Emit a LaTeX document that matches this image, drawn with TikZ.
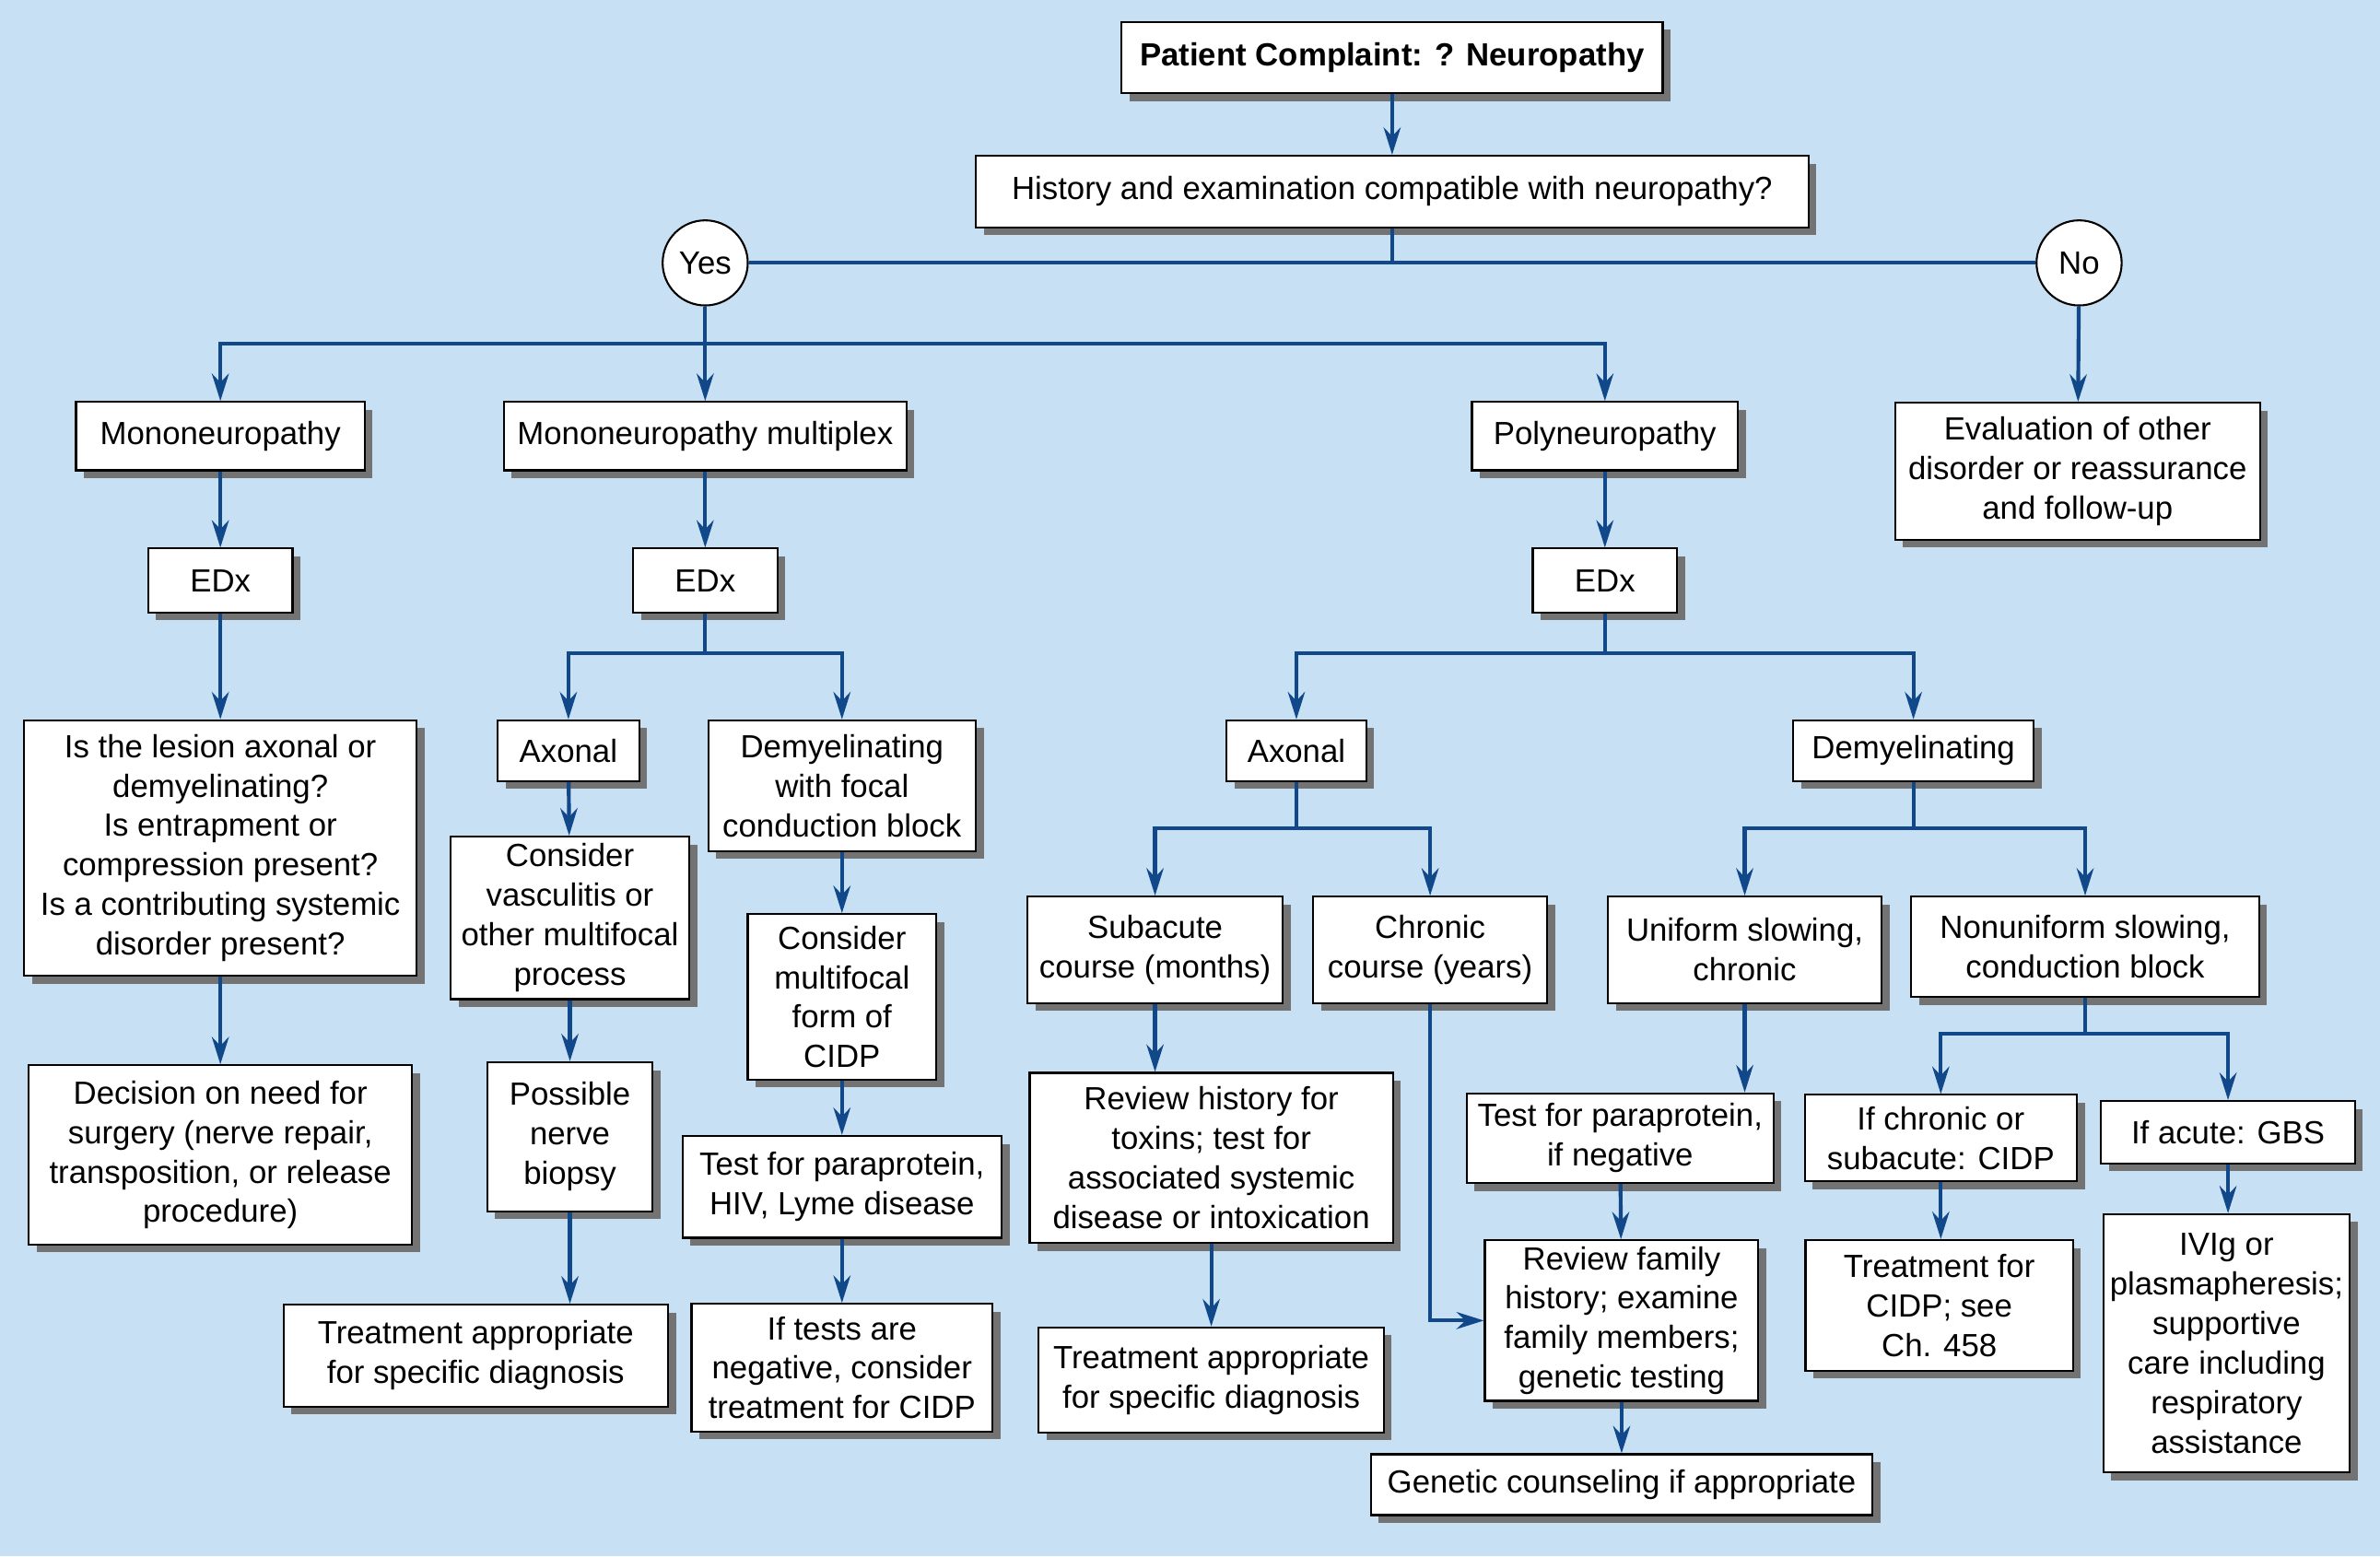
\documentclass[tikz,border=0pt]{standalone}
\usepackage{fontspec}
\setmainfont{Liberation Sans}
\usetikzlibrary{arrows.meta,shadows}
\definecolor{bgblue}{RGB}{200,224,244}
\definecolor{lineblue}{RGB}{16,72,138}
\tikzset{
  box/.style={draw=black, line width=0.9pt, fill=white, align=center, inner sep=1mm,
    font=\fontsize{15}{18.5}\selectfont,
    drop shadow={shadow xshift=1.3mm, shadow yshift=-1.3mm, fill=black!55, opacity=1}},
  bw/.style={minimum width=#1*0.25mm},
  bh/.style={minimum height=#1*0.25mm},
  choice/.style={circle, draw=black, line width=0.9pt, fill=white, minimum size=14mm, inner sep=0pt,
    font=\fontsize{15}{18.5}\selectfont},
  link/.style={draw=lineblue, line width=1.8pt},
  arr/.style={link, -{Stealth[length=4.5mm,width=2.8mm]}}
}
\begin{document}
\begin{tikzpicture}[x=0.25mm, y=-0.25mm]
    \fill[bgblue] (0,0) rectangle (1566,1024);
    \useasboundingbox (0,0) rectangle (1566,1024);

    % top
    \node[box, bw=356, bh=47, font=\fontsize{15}{18.5}\selectfont\bfseries] (top) at (916,38) {Patient Complaint: ? Neuropathy};
    \node[box, bw=548, bh=47] (hist) at (916,126) {History and examination compatible with neuropathy?};
    \node[choice] (yes) at (464,173) {Yes};
    \node[choice] (no) at (1368,173) {No};

    % first level
    \node[box, bw=190, bh=45] (mono) at (145,287) {Mononeuropathy};
    \node[box, bw=265, bh=45] (multi) at (464,287) {Mononeuropathy multiplex};
    \node[box, bw=175, bh=45] (poly) at (1056,287) {Polyneuropathy};
    \node[box, bw=240, bh=90] (eval) at (1367,310) {Evaluation of other\\disorder or reassurance\\and follow-up};

    \node[box, bw=95, bh=42] (edxa) at (145,382) {EDx};
    \node[box, bw=95, bh=42] (edxb) at (464,382) {EDx};
    \node[box, bw=95, bh=42] (edxc) at (1056,382) {EDx};

    % mononeuropathy
    \node[box, bw=258, bh=168] (lesion) at (145,558) {Is the lesion axonal or\\demyelinating?\\Is entrapment or\\compression present?\\Is a contributing systemic\\disorder present?};
    \node[box, bw=252, bh=118] (decide) at (145,760) {Decision on need for\\surgery (nerve repair,\\transposition, or release\\procedure)};

    % multiplex
    \node[box, bw=93, bh=40] (axa) at (374,494) {Axonal};
    \node[box, bw=176, bh=86] (focal) at (554,517) {Demyelinating\\with focal\\conduction block};
    \node[box, bw=157, bh=107] (vasc) at (375,604) {Consider\\vasculitis or\\other multifocal\\process};
    \node[box, bw=109, bh=98] (biopsy) at (375,748) {Possible\\nerve\\biopsy};
    \node[box, bw=253, bh=67] (treata) at (313,892) {Treatment appropriate\\for specific diagnosis};
    \node[box, bw=124, bh=109] (multif) at (554,656) {Consider\\multifocal\\form of\\CIDP};
    \node[box, bw=210, bh=67] (hiv) at (554,781) {Test for paraprotein,\\HIV, Lyme disease};
    \node[box, bw=198, bh=84] (neg) at (554,900) {If tests are\\negative, consider\\treatment for CIDP};

    % polyneuropathy, axonal
    \node[box, bw=92, bh=40] (axb) at (853,494) {Axonal};
    \node[box, bw=158, bh=40] (demb) at (1259,494) {Demyelinating};
    \node[box, bw=168, bh=70] (subac) at (760,625) {Subacute\\course (months)};
    \node[box, bw=154, bh=70] (chron) at (941,625) {Chronic\\course (years)};
    \node[box, bw=239, bh=112] (toxin) at (797,762) {Review history for\\toxins; test for\\associated systemic\\disease or intoxication};
    \node[box, bw=227, bh=69] (treatb) at (797,908) {Treatment appropriate\\for specific diagnosis};

    % polyneuropathy, demyelinating
    \node[box, bw=180, bh=70] (unif) at (1148,625) {Uniform slowing,\\chronic};
    \node[box, bw=229, bh=66] (nonun) at (1372,623) {Nonuniform slowing,\\conduction block};
    \node[box, bw=202, bh=59] (para) at (1066,749) {Test for paraprotein,\\if negative};
    \node[box, bw=180, bh=105] (family) at (1067,869) {Review family\\history; examine\\family members;\\genetic testing};
    \node[box, bw=330, bh=40] (counsel) at (1067,977) {Genetic counseling if appropriate};
    \node[box, bw=179, bh=57] (ifchr) at (1277,749) {If chronic or\\subacute: CIDP};
    \node[box, bw=167, bh=41] (ifacu) at (1466,745) {If acute: GBS};
    \node[box, bw=176, bh=86] (treatc) at (1276,859) {Treatment for\\CIDP; see\\Ch. 458};
    \node[box, bw=162, bh=170] (ivig) at (1465,884) {IVIg or\\plasmapheresis;\\supportive\\care including\\respiratory\\assistance};

    % junction points
    \coordinate (j0) at (916,173);
    \coordinate (j1) at (464,226);
    \coordinate (j2) at (464,430);
    \coordinate (j3) at (1056,430);
    \coordinate (j4) at (853,545);
    \coordinate (j5) at (1259,545);
    \coordinate (j6) at (1372,680);

    % connectors
    \draw[arr] (top) -- (hist);
    \draw[link] (hist) -- (j0);
    \draw[link] (yes) -- (no);
    \draw[link] (yes) -- (j1);
    \draw[arr] (j1) -| (mono);
    \draw[arr] (j1) -- (multi);
    \draw[arr] (j1) -| (poly);
    \draw[arr] (no) -- (eval);

    \draw[arr] (mono) -- (edxa);
    \draw[arr] (multi) -- (edxb);
    \draw[arr] (poly) -- (edxc);

    \draw[arr] (edxa) -- (lesion);
    \draw[arr] (lesion) -- (decide);

    \draw[link] (edxb) -- (j2);
    \draw[arr] (j2) -| (axa);
    \draw[arr] (j2) -| (focal);
    \draw[arr] (axa) -- (vasc);
    \draw[arr] (vasc) -- (biopsy);
    \draw[arr] (biopsy) -- (biopsy |- treata.north);
    \draw[arr] (focal) -- (multif);
    \draw[arr] (multif) -- (hiv);
    \draw[arr] (hiv) -- (neg);

    \draw[link] (edxc) -- (j3);
    \draw[arr] (j3) -| (axb);
    \draw[arr] (j3) -| (demb);
    \draw[link] (axb) -- (j4);
    \draw[arr] (j4) -| (subac);
    \draw[arr] (j4) -| (chron);
    \draw[arr] (subac) -- (subac |- toxin.north);
    \draw[arr] (toxin) -- (treatb);
    \draw[arr] (chron) |- (family);

    \draw[link] (demb) -- (j5);
    \draw[arr] (j5) -| (unif);
    \draw[arr] (j5) -| (nonun);
    \draw[arr] (unif) -- (unif |- para.north);
    \draw[arr] (para) -- (family);
    \draw[arr] (family) -- (counsel);
    \draw[link] (nonun) -- (j6);
    \draw[arr] (j6) -| (ifchr);
    \draw[arr] (j6) -| (ifacu);
    \draw[arr] (ifchr) -- (ifchr |- treatc.north);
    \draw[arr] (ifacu) -- (ifacu |- ivig.north);
\end{tikzpicture}
\end{document}
